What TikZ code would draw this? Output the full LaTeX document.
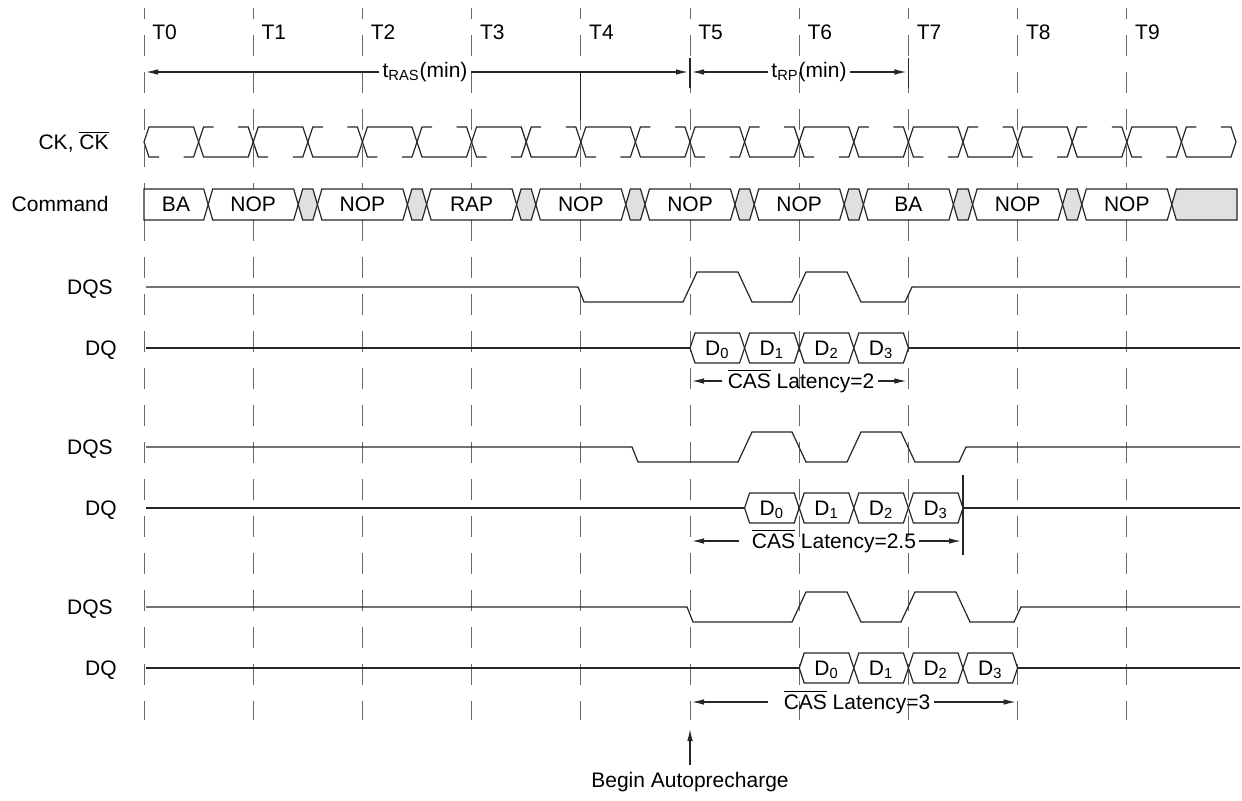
\documentclass[tikz,border=0pt]{standalone}
\usepackage{fontspec}
\setmainfont{Liberation Sans}
\usetikzlibrary{arrows.meta,shapes}
\tikzstyle{grid line}=[draw=black!60, line width=0.5pt, dash pattern=on 10.5pt off 8pt, dash phase=5pt]
\tikzstyle{wave}=[draw=black!85, line width=0.6pt]
\tikzstyle{bus}=[wave, fill=white]
\tikzstyle{idle bus}=[wave, fill=black!12]
\tikzstyle{sig label}=[anchor=base east, inner sep=0pt]
\tikzstyle{span label}=[inner sep=1.5pt]
\tikzstyle{span}=[wave, -{Latex[length=6pt,width=2.8pt]}, shorten >=1pt]
\newcommand{\ovl}[1]{\(\overline{\mbox{#1}}\)}

\begin{document}
\begin{tikzpicture}[x=0.5pt, y=-0.5pt, font=\fontsize{10.5}{12.6}\selectfont]
    \useasboundingbox (0,0) rectangle (1242,801);

    % Clock edges T0..T9 and their guide lines
    \foreach \k in {0,...,9} {
        \coordinate (t\k) at ({144+109.2*\k},0);
        \draw[grid line] ({144+109.2*\k},8) -- ({144+109.2*\k},720);
        \node[anchor=base west, inner sep=0pt] (T\k) at ({152+109.2*\k},40) {T\k};
    }

    % Signal names
    \node[sig label] (ck) at (109,149.5) {CK, \ovl{CK}};
    \node[sig label] (cmd) at (109,212) {Command};
    \foreach \n/\y in {1/287, 2/447, 3/607} {
        \node[sig label] (dqs\n) at (113,{\y+7.5}) {DQS};
        \node[sig label] (dq\n) at (117,{\y+68.5}) {DQ};
    }

    % tRAS and tRP
    \node[span label] (ras) at (425,72) {t\textsubscript{RAS}(min)};
    \draw[span] (ras.west) -- (t0 |- ras.west);
    \draw[span] (ras.east) -- (t5 |- ras.east);
    \node[span label] (rp) at (809,72) {t\textsubscript{RP}(min)};
    \draw[span] (rp.west) -- (t5 |- rp.west);
    \draw[span] (rp.east) -- (t7 |- rp.east);
    \draw[wave] (t4 |- 0,72) -- (t4 |- 0,120);
    \draw[wave] (t5 |- 0,58) -- (t5 |- 0,88);
    \draw[wave] (t7 |- 0,58) -- (t7 |- 0,88);

    % CK (solid) and CK# (dashed)
    \draw[wave] (144,142) -- (149,127)
        \foreach \k in {0,...,8} {
            -- ({193.6+109.2*\k},127) -- ({203.6+109.2*\k},157)
            -- ({248.2+109.2*\k},157) -- ({258.2+109.2*\k},127)
        }
        -- (1176.4,127) -- (1186.4,157) -- (1231,157) -- (1236,142);
    \foreach \k in {0,...,9}
        \draw[wave] ({183.6+109.2*\k},157) -- ({193.6+109.2*\k},157) -- ({203.6+109.2*\k},127) -- ({213.6+109.2*\k},127);
    \foreach \k in {1,...,9}
        \draw[wave] ({129+109.2*\k},127) -- ({139+109.2*\k},127) -- ({149+109.2*\k},157) -- ({159+109.2*\k},157);
    \draw[wave] (144,142) -- (149,157) -- (159,157);
    \draw[wave] (1221,127) -- (1231,127) -- (1236,142);

    % Command bus
    \draw[bus] (144,189) -- (203.7,189) -- (208.2,204.5) -- (203.7,220) -- (144,220) -- cycle;
    \node (cmd0) at (176,204.5) {BA};
    \foreach \k/\cmd in {1/NOP, 2/NOP, 3/RAP, 4/NOP, 5/NOP, 6/NOP, 7/BA, 8/NOP, 9/NOP} {
        \draw[bus] ({99+109.2*\k},204.5) -- ({103.5+109.2*\k},189) -- ({184.5+109.2*\k},189)
            -- ({189+109.2*\k},204.5) -- ({184.5+109.2*\k},220) -- ({103.5+109.2*\k},220) -- cycle;
        \node (cmd\k) at ({144+109.2*\k},204.5) {\cmd};
    }
    \foreach \k in {1,...,8}
        \draw[idle bus] ({189+109.2*\k},204.5) -- ({193.5+109.2*\k},189) -- ({203.7+109.2*\k},189)
            -- ({208.2+109.2*\k},204.5) -- ({203.7+109.2*\k},220) -- ({193.5+109.2*\k},220) -- cycle;
    \draw[idle bus] (1171.8,204.5) -- (1176.3,189) -- (1237,189) -- (1237,220) -- (1176.3,220) -- cycle;

    % DQS for CAS latency 2, 2.5 and 3
    \draw[wave] (146,287) -- (578,287) -- (584,302) -- (683,302) -- (697,272) -- (738,272) -- (752,302)
        -- (792,302) -- (806,272) -- (847,272) -- (861,302) -- (905,302) -- (912,287) -- (1240,287);
    \draw[wave] (146,447) -- (632,447) -- (638,462) -- (738,462) -- (752,432) -- (792,432) -- (806,462)
        -- (847,462) -- (861,432) -- (901,432) -- (915,462) -- (959,462) -- (966,447) -- (1240,447);
    \draw[wave] (146,607) -- (687,607) -- (693,622) -- (792,622) -- (806,592) -- (847,592) -- (861,622)
        -- (901,622) -- (915,592) -- (956,592) -- (970,622) -- (1014,622) -- (1021,607) -- (1240,607);

    % DQ bursts
    \foreach \r/\y/\s in {1/348/690, 2/508/744.6, 3/668/799.2} {
        \draw[wave] (146,\y) -- (\s,\y);
        \draw[wave] ({\s+218.4},\y) -- (1240,\y);
        \foreach \i in {0,...,3} {
            \draw[bus] ({\s+54.6*\i},\y) -- ({\s+54.6*\i+5},{\y-15}) -- ({\s+54.6*\i+49.6},{\y-15})
                -- ({\s+54.6*\i+54.6},\y) -- ({\s+54.6*\i+49.6},{\y+15}) -- ({\s+54.6*\i+5},{\y+15}) -- cycle;
            \node[anchor=base, inner sep=0pt] (d\r\i) at ({\s+54.6*\i+27.3},{\y+7.5}) {D\textsubscript{\i}};
        }
    }

    % CAS latency spans
    \node[span label] (cl2) at (801,381) {\ovl{CAS} Latency=2};
    \draw[span] ([xshift=-1pt]cl2.west) -- (t5 |- cl2.west);
    \draw[span] (cl2.east) -- (t7 |- cl2.east);
    \coordinate (t75) at (963,475);
    \draw[wave] (t75) -- ++(0,80);
    \node[span label] (cl25) at (834,541) {\ovl{CAS} Latency=2.5};
    \draw[span] ([xshift=-5pt]cl25.west) -- (t5 |- cl25.west);
    \draw[span] (cl25.east) -- (t75 |- cl25.east);
    \node[span label] (cl3) at (857,702) {\ovl{CAS} Latency=3};
    \draw[span] ([xshift=-6pt]cl3.west) -- (t5 |- cl3.west);
    \draw[span] (cl3.east) -- (t8 |- cl3.east);

    % Autoprecharge marker
    \node (bap) at (690,782) {Begin Autoprecharge};
    \coordinate (ap) at (690,727);
    \draw[span] (bap.north) -- (ap);
\end{tikzpicture}
\end{document}
